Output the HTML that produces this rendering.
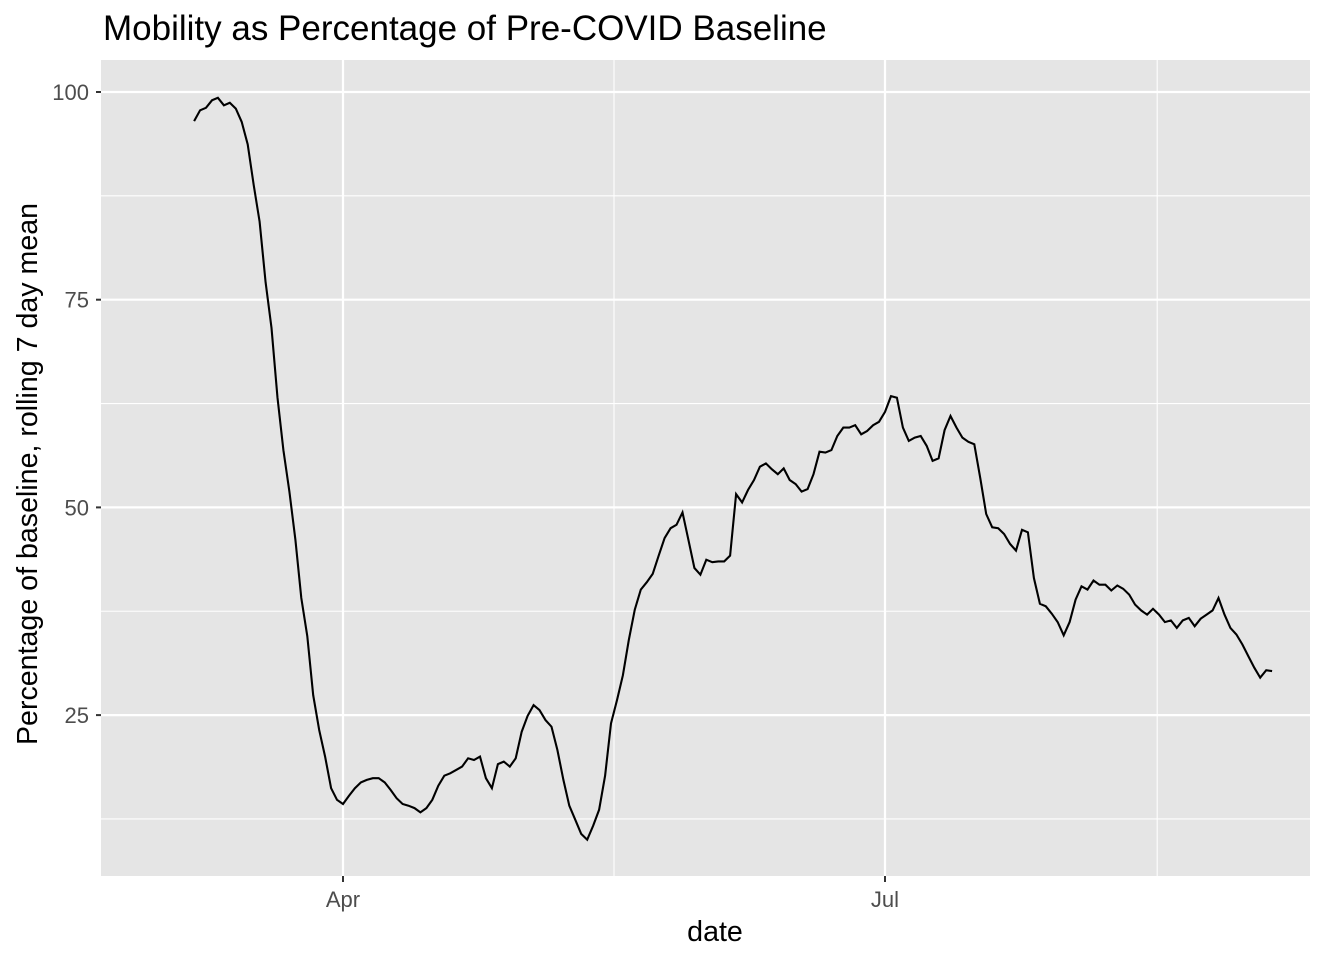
<!DOCTYPE html>
<html><head><meta charset="utf-8"><style>
body{margin:0;background:#fff}
svg{display:block;font-family:"Liberation Sans",Arial,sans-serif}
</style></head><body>
<svg id="chart" width="1344" height="960">
<text x="103" y="40" font-size="35" fill="#000">Mobility as Percentage of Pre-COVID Baseline</text>
<rect x="101" y="60" width="1209" height="816" fill="#e5e5e5"/>
<g id="grid"></g>
<g id="axes"></g>
<path id="line" fill="none" stroke="#000" stroke-width="2.1"/>
<text x="715" y="941" font-size="28.6" text-anchor="middle" fill="#000">date</text>
<text transform="translate(37,474) rotate(-90)" font-size="28.6" text-anchor="middle" fill="#000">Percentage of baseline, rolling 7 day mean</text>
</svg>
<script>
// day 0 = Apr 1; series starts Mar 7 (day -25), daily
const startDay = -25;
const values = [96.5,97.8,98.1,99.0,99.3,98.4,98.7,98.0,96.4,93.7,88.8,84.4,77.1,71.6,63.2,56.9,51.9,46.1,39.1,34.5,27.4,23.2,20.0,16.2,14.8,14.3,15.3,16.2,16.9,17.2,17.4,17.4,16.9,16.0,15.0,14.3,14.1,13.8,13.3,13.8,14.8,16.5,17.7,18.0,18.4,18.8,19.8,19.6,20.0,17.4,16.2,19.1,19.4,18.8,19.8,23.0,24.9,26.2,25.6,24.4,23.6,20.8,17.2,14.1,12.4,10.7,10.0,11.7,13.6,17.7,24.0,26.8,29.8,34.1,37.7,40.1,41.0,42.0,44.2,46.3,47.5,47.9,49.4,46.1,42.7,41.9,43.7,43.4,43.5,43.5,44.2,51.6,50.6,52.1,53.3,54.9,55.3,54.6,54.0,54.7,53.3,52.8,51.9,52.2,54.0,56.7,56.6,56.9,58.6,59.6,59.6,59.9,58.8,59.2,59.9,60.3,61.5,63.4,63.2,59.6,58.0,58.4,58.6,57.4,55.6,55.9,59.3,61.0,59.6,58.4,57.9,57.6,53.5,49.2,47.6,47.5,46.8,45.6,44.8,47.3,47.0,41.5,38.4,38.1,37.2,36.2,34.6,36.2,38.9,40.5,40.1,41.2,40.7,40.7,40.0,40.6,40.2,39.5,38.3,37.6,37.1,37.8,37.1,36.2,36.4,35.5,36.4,36.7,35.7,36.6,37.1,37.6,39.1,37.1,35.5,34.7,33.5,32.1,30.7,29.5,30.4,30.3];
const yMajor = [25,50,75,100];
const yMinor = [12.5,37.5,62.5,87.5];
const xMajorDays = [0,91];
const xMajorLabels = ["Apr","Jul"];
const xMinorDays = [45.5,136.7];

const X = d => 343 + d*5.956;
const Y = v => 92 + (100-v)*8.308;
const ns = "http://www.w3.org/2000/svg";
const grid = document.getElementById('grid'), axes = document.getElementById('axes');
function ln(p,x1,y1,x2,y2,c,w){const l=document.createElementNS(ns,'line');l.setAttribute('x1',x1);l.setAttribute('y1',y1);l.setAttribute('x2',x2);l.setAttribute('y2',y2);l.setAttribute('stroke',c);l.setAttribute('stroke-width',w);p.appendChild(l);return l;}
function tx(p,x,y,s,a){const t=document.createElementNS(ns,'text');t.setAttribute('x',x);t.setAttribute('y',y);t.setAttribute('font-size','22');t.setAttribute('fill','#4d4d4d');t.setAttribute('text-anchor',a);t.textContent=s;p.appendChild(t);return t;}
yMinor.forEach(v=>{const l=ln(grid,101,Y(v),1310,Y(v),'#fff',1.1);

});
xMinorDays.forEach(d=>{const l=ln(grid,X(d),60,X(d),876,'#fff',1.1);

});
yMajor.forEach(v=>{const l=ln(grid,101,Y(v),1310,Y(v),'#fff',2.2);


const k=ln(axes,96,Y(v),101,Y(v),'#333',2);


const t=tx(axes,89,Y(v)+8,String(v),'end');

});
xMajorDays.forEach((d,i)=>{const l=ln(grid,X(d),60,X(d),876,'#fff',2.2);


const k=ln(axes,X(d),876,X(d),882,'#333',2);


const t=tx(axes,X(d),907,xMajorLabels[i],'middle');

});
document.getElementById('line').setAttribute('d',values.map((v,i)=>(i?'L':'M')+X(startDay+i).toFixed(1)+','+Y(v).toFixed(1)).join(''));
</script>
</body></html>
